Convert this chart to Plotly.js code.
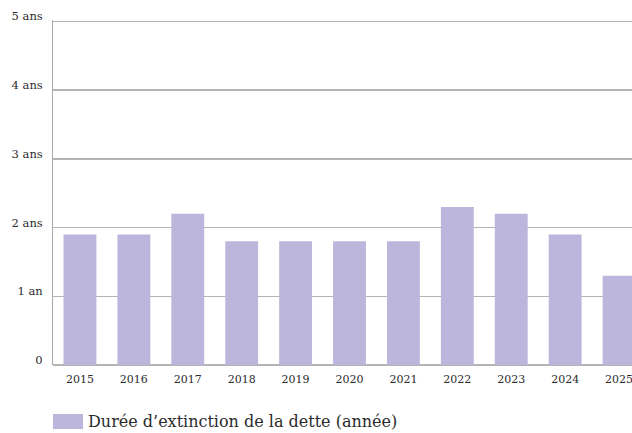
<!DOCTYPE html>
<html>
<head>
<meta charset="utf-8">
<script src="https://cdn.plot.ly/plotly-3.0.1.min.js"></script>
<style>
  html, body { margin: 0; padding: 0; background: #fff; overflow: hidden; }
  #chart { width: 632px; height: 433px; }
</style>
</head>
<body>
<div id="chart"></div>
<script>
const years = ["2015", "2016", "2017", "2018", "2019", "2020", "2021", "2022", "2023", "2024", "2025"];
const dureeExtinction = [1.9, 1.9, 2.2, 1.8, 1.8, 1.8, 1.8, 2.3, 2.2, 1.9, 1.3];
const yTickValues = [0, 1, 2, 3, 4, 5];
const yTickLabels = ["0", "1 an", "2 ans", "3 ans", "4 ans", "5 ans"];
const seriesName = "Durée d’extinction de la dette (année)";

const barColor = "#bdb6dc";
const textColor = "#2b2b2b";
const fontFamily = "DejaVu Serif";

const trace = {
  type: "bar",
  x: years,
  y: dureeExtinction,
  name: seriesName,
  marker: { color: barColor },
  width: 0.61,
  hoverinfo: "x+y",
  showlegend: false
};

const layout = {
  width: 632,
  height: 433,
  margin: { l: 53, r: 0, t: 20, b: 68, pad: 0 },
  paper_bgcolor: "#ffffff",
  plot_bgcolor: "#ffffff",
  font: { family: fontFamily, color: textColor, size: 11.5 },
  showlegend: false,
  bargap: 0.39,
  xaxis: {
    type: "category",
    range: [-0.5, 10.24],
    showgrid: false,
    zeroline: false,
    showline: false,
    ticks: "",
    tickfont: { family: fontFamily, size: 11, color: textColor },
    ticklabelstandoff: 6,
    fixedrange: true
  },
  yaxis: {
    range: [0, 5.02],
    tickvals: yTickValues,
    ticktext: yTickLabels,
    showgrid: true,
    gridcolor: "#b4b4b4",
    gridwidth: 1.5,
    zeroline: true,
    zerolinecolor: "#b4b4b4",
    zerolinewidth: 1.5,
    showline: true,
    linecolor: "#a8a8a8",
    linewidth: 1,
    ticks: "",
    tickfont: { family: fontFamily, size: 11.5, color: textColor },
    ticklabelshift: -5,
    ticklabelstandoff: 7,
    fixedrange: true
  },
  shapes: [
    {
      type: "rect",
      xref: "paper", yref: "paper",
      x0: 0, x1: 30 / 579,
      y0: -64 / 345, y1: -49 / 345,
      fillcolor: barColor,
      line: { width: 0 }
    }
  ],
  annotations: [
    {
      xref: "paper", yref: "paper",
      x: 33 / 579, y: -56.5 / 345,
      xanchor: "left", yanchor: "middle",
      text: seriesName,
      showarrow: false,
      font: { family: fontFamily, size: 16, color: textColor }
    }
  ]
};

Plotly.newPlot("chart", [trace], layout, { displayModeBar: false, staticPlot: true });
</script>
</body>
</html>
